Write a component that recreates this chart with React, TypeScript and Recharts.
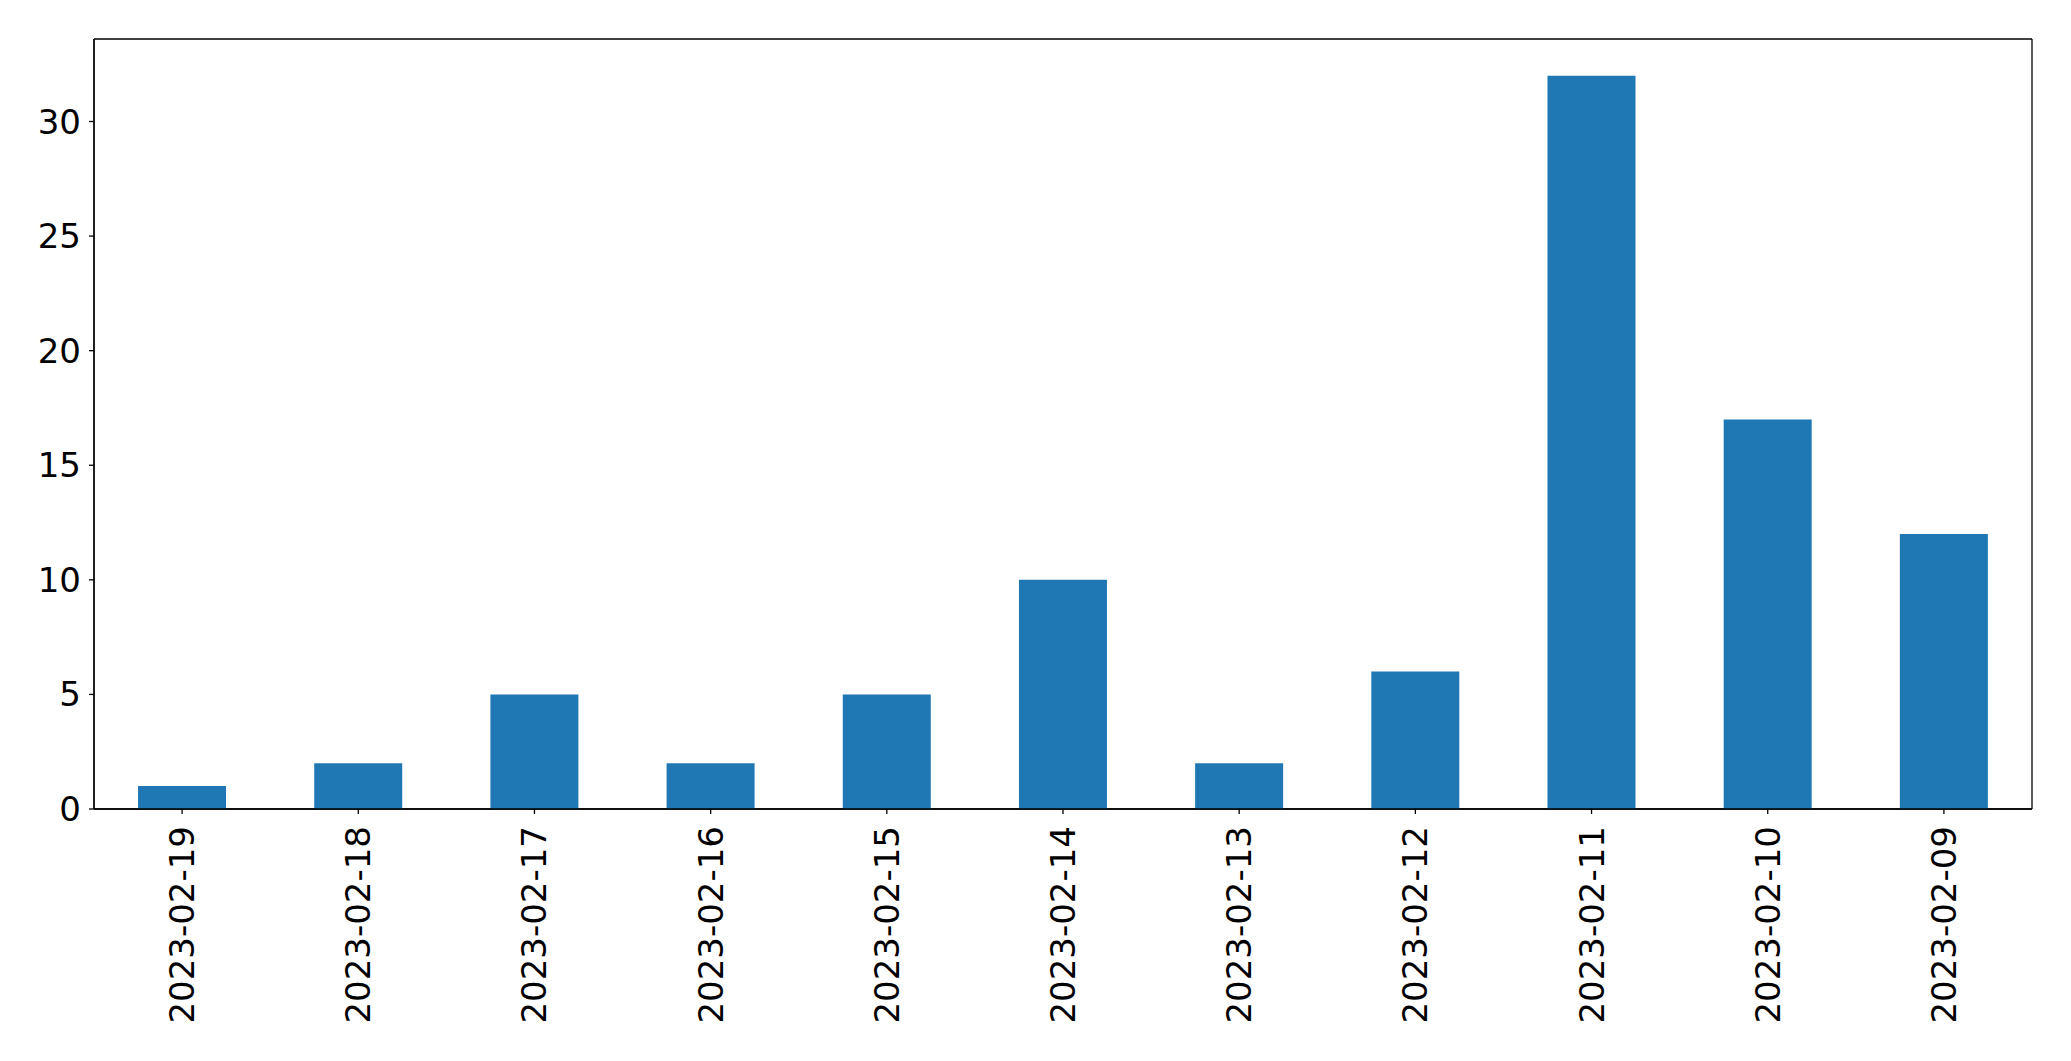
import { BarChart, Bar, XAxis, YAxis, CartesianGrid } from 'recharts';

const dates = [
  '2023-02-19', '2023-02-18', '2023-02-17', '2023-02-16', '2023-02-15', '2023-02-14',
  '2023-02-13', '2023-02-12', '2023-02-11', '2023-02-10', '2023-02-09',
];
const counts = [1, 2, 5, 2, 5, 10, 2, 6, 32, 17, 12];
const yTicks = [0, 5, 10, 15, 20, 25, 30];

const data = dates.map((date, i) => ({ date, count: counts[i] }));

const font = '"DejaVu Sans", sans-serif';

function DateTick(props: any) {
  const { x, y, payload } = props;
  return (
    <text
      x={x}
      y={y}
      transform={`rotate(-90, ${x}, ${y})`}
      textAnchor="end"
      dominantBaseline="central"
      fill="#000"
      fontSize={34}
      fontFamily={font}
    >
      {payload.value}
    </text>
  );
}

// frame lines on the plot edges (matplotlib spines)
const frameRows = ({ offset }: any) => [offset.top, offset.top + offset.height];
const frameCols = ({ offset }: any) => [offset.left, offset.left + offset.width];

export default function App() {
  return (
    <div style={{ position: 'absolute', left: 0, top: 0, background: '#fff' }}>
      <BarChart
        width={2071}
        height={1061}
        data={data}
        margin={{ top: 39, right: 39, left: 0, bottom: 0 }}
        barCategoryGap="25%"
      >
        <CartesianGrid
          stroke="#000"
          strokeWidth={1.3}
          fill="none"
          horizontalCoordinatesGenerator={frameRows}
          verticalCoordinatesGenerator={frameCols}
        />
        <XAxis
          dataKey="date"
          height={252}
          tick={<DateTick />}
          tickSize={5}
          tickMargin={12}
          interval={0}
          axisLine={{ stroke: '#000', strokeWidth: 1.3 }}
          tickLine={{ stroke: '#000', strokeWidth: 1.3 }}
        />
        <YAxis
          width={94}
          domain={[0, 33.6]}
          ticks={yTicks}
          allowDataOverflow
          tickSize={5}
          tickMargin={8}
          tick={{ fill: '#000', fontSize: 34, fontFamily: font }}
          axisLine={{ stroke: '#000', strokeWidth: 1.3 }}
          tickLine={{ stroke: '#000', strokeWidth: 1.3 }}
        />
        <Bar dataKey="count" fill="#1f77b4" isAnimationActive={false} />
      </BarChart>
    </div>
  );
}
